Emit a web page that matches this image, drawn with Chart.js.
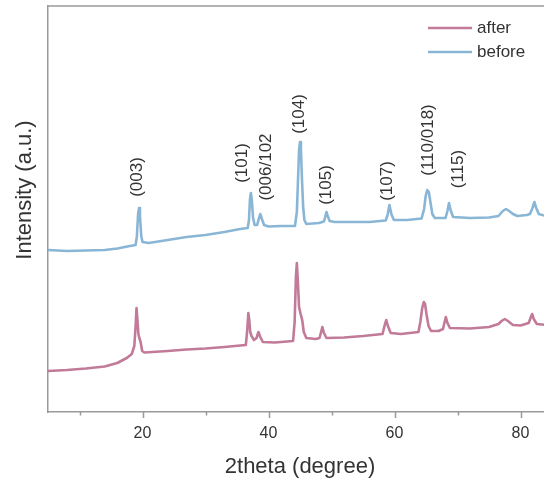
<!DOCTYPE html>
<html><head><meta charset="utf-8">
<script src="https://cdn.jsdelivr.net/npm/chart.js@4/dist/chart.umd.min.js"></script>
<style>html,body{margin:0;padding:0;background:#fff;overflow:hidden}canvas{display:block}</style>
</head><body>
<canvas id="c" width="544" height="485"></canvas>
<script>
// ---- data (2theta in degrees, intensity in arbitrary units) ----
const seriesNames = ['after', 'before'];
const seriesColors = ['#c27a99', '#8ab6d6'];

const afterX = [5, 8, 11, 14, 16, 17.5, 18.3, 18.7, 18.9, 19.05, 19.2, 19.35, 19.5, 19.7, 19.95, 20.3, 24, 27, 30, 33, 35.5,
  36.4, 36.6, 36.8, 36.95, 37.1, 37.3, 37.7, 38.1, 38.4, 38.7, 39.1, 41, 43.9, 44.15, 44.35, 44.5, 44.65, 44.85, 45.1, 45.35,
  45.6, 46.0, 47.5, 48.1, 48.35, 48.55, 48.8, 49.2, 52, 55, 58.1, 58.45, 58.7, 58.95, 59.4, 61, 63.8, 64.1, 64.4, 64.65, 64.85,
  65.1, 65.4, 65.8, 67, 67.7, 67.95, 68.15, 68.4, 68.8, 72, 75, 76.5, 77.0, 77.5, 78.0, 78.8, 80, 81.3, 81.65, 81.85, 82.1, 82.6, 84];
const afterY = [41, 42, 43.5, 45.5, 49, 54, 58, 66, 85, 104, 92, 78, 74, 70, 61, 59.5, 61, 62.5, 63.5, 65, 66.5,
  67, 80, 99, 92, 80, 76, 72, 74, 80, 75, 70, 69.5, 71, 90, 135, 149, 132, 105, 98, 92,
  80, 74, 73, 74, 80, 85, 79, 74, 74.5, 76, 78, 87, 92, 86, 79, 78, 80, 90, 104, 110, 108,
  97, 86, 81, 81, 83, 90, 95, 89, 84, 83.5, 85, 88, 91, 93, 91, 87, 86.5, 89, 95, 98, 93, 88, 87];

const beforeX = [5, 8, 11, 14, 16, 18, 18.9, 19.1, 19.3, 19.45, 19.6, 19.8, 20.0, 21, 24, 27, 30, 33, 35.5, 36.7, 36.9,
  37.05, 37.2, 37.35, 37.55, 37.8, 38.2, 38.45, 38.7, 38.95, 39.3, 40, 42, 44.2, 44.5, 44.7, 44.85, 45.0, 45.15, 45.3,
  45.5, 45.7, 46, 48, 48.8, 49.0, 49.2, 49.4, 49.7, 50.5, 53, 56, 58.6, 58.9, 59.2, 59.5, 59.9, 62, 64.3, 64.7, 64.95,
  65.2, 65.45, 65.7, 66.0, 66.4, 68.1, 68.4, 68.65, 68.9, 69.3, 72, 75, 76.5, 77.2, 77.7, 78.2, 78.8, 79.5, 81, 81.5,
  81.9, 82.2, 82.5, 82.9, 84];
const beforeY = [162, 161, 161.5, 162, 163.5, 166, 167, 175, 198, 204, 196, 176, 170, 169, 172, 175, 177, 180, 183, 184, 192,
  212, 219, 212, 194, 187, 187, 193, 198, 193, 187, 185.5, 186, 186, 200, 235, 262, 270, 262, 235,
  205, 192, 188, 189, 190.5, 195, 200, 196, 191, 190, 190, 190, 191.5, 197, 207, 198, 192, 192, 193.5, 203, 216,
  222, 220, 210, 198, 194, 194, 201, 209, 202, 195, 194, 194.5, 196, 201, 203, 201, 198, 196, 197, 198,
  204, 210, 204, 198, 196];

const xTickValues = [10, 20, 30, 40, 50, 60, 70, 80];
const xTickLabels = ['', '20', '', '40', '', '60', '', '80'];

const peakLabels = ['(003)', '(101)', '(006/102', '(104)', '(105)', '(107)', '(110/018)', '(115)'];
const peakLabelX = [19.1, 35.9, 39.6, 44.9, 49.2, 58.9, 65.3, 70.2];
const peakLabelY = [235, 249, 245, 298, 227, 231, 272, 243];

const xTitle = '2theta (degree)';
const yTitle = 'Intensity (a.u.)';

// ---- chart ----
const FONT = '"Liberation Sans", Arial, Helvetica, sans-serif';
const TEXT = '#333333';
const AXIS = '#9a9a9a';

function toPoints(xs, ys) { return xs.map((x, i) => ({ x: x, y: ys[i] })); }

const decor = {
  id: 'decor',
  afterDraw(chart) {
    const ctx = chart.ctx, a = chart.chartArea;
    const xs = chart.scales.x, ys = chart.scales.y;
    ctx.save();
    ctx.strokeStyle = AXIS; ctx.lineWidth = 1.5;
    ctx.beginPath(); ctx.moveTo(a.left, a.top); ctx.lineTo(a.right, a.top); ctx.stroke();
    xTickValues.forEach((v, i) => {
      const px = Math.round(xs.getPixelForValue(v)) + 0.5;
      const len = xTickLabels[i] ? 6 : 3.5;
      ctx.beginPath(); ctx.moveTo(px, a.bottom); ctx.lineTo(px, a.bottom + len); ctx.stroke();
    });
    ctx.fillStyle = TEXT;
    ctx.font = '22px ' + FONT;
    ctx.textAlign = 'center'; ctx.textBaseline = 'middle';
    ctx.fillText(xTitle, 300, 467);
    ctx.save(); ctx.translate(25, 190); ctx.rotate(-Math.PI / 2);
    ctx.fillText(yTitle, 0, 0); ctx.restore();
    ctx.font = '17px ' + FONT;
    peakLabels.forEach((t, i) => {
      const px = xs.getPixelForValue(peakLabelX[i]);
      const py = ys.getPixelForValue(peakLabelY[i]);
      ctx.save(); ctx.translate(px, py); ctx.rotate(-Math.PI / 2);
      ctx.fillText(t, 0, 0); ctx.restore();
    });
    const ly = [28, 52];
    chart.data.datasets.forEach((d, i) => {
      ctx.strokeStyle = d.borderColor; ctx.lineWidth = 2.5;
      ctx.beginPath(); ctx.moveTo(428, ly[i]); ctx.lineTo(472, ly[i]); ctx.stroke();
      ctx.fillStyle = TEXT; ctx.textAlign = 'left'; ctx.font = '17px ' + FONT;
      ctx.fillText(d.label, 477, ly[i]);
    });
    ctx.restore();
  }
};

new Chart(document.getElementById('c'), {
  type: 'line',
  data: {
    datasets: [
      { label: seriesNames[0], data: toPoints(afterX, afterY), borderColor: seriesColors[0], borderWidth: 2.6, pointRadius: 0, tension: 0, fill: false, borderJoinStyle: 'round' },
      { label: seriesNames[1], data: toPoints(beforeX, beforeY), borderColor: seriesColors[1], borderWidth: 2.6, pointRadius: 0, tension: 0, fill: false, borderJoinStyle: 'round' }
    ]
  },
  options: {
    responsive: false,
    animation: false,
    events: [],
    layout: { padding: { top: 6, right: 0, left: 0, bottom: 0 } },
    plugins: { legend: { display: false }, tooltip: { enabled: false } },
    scales: {
      x: {
        type: 'linear', min: 5, max: 83.73,
        afterBuildTicks: s => { s.ticks = xTickValues.map(v => ({ value: v })); },
        afterFit: s => { s.height = 73; s.paddingRight = 0; s.paddingLeft = 0; },
        ticks: {
          autoSkip: false, maxRotation: 0, padding: 12, color: TEXT,
          font: { size: 16, family: FONT },
          callback: (v, i) => xTickLabels[i]
        },
        grid: { display: false, drawTicks: false },
        border: { display: true, color: AXIS, width: 1.5 }
      },
      y: {
        type: 'linear', min: 0, max: 406,
        afterFit: s => { s.width = 48; },
        ticks: { display: false },
        grid: { display: false, drawTicks: false },
        border: { display: true, color: AXIS, width: 1.5 }
      }
    }
  },
  plugins: [decor]
});
</script>
</body></html>
